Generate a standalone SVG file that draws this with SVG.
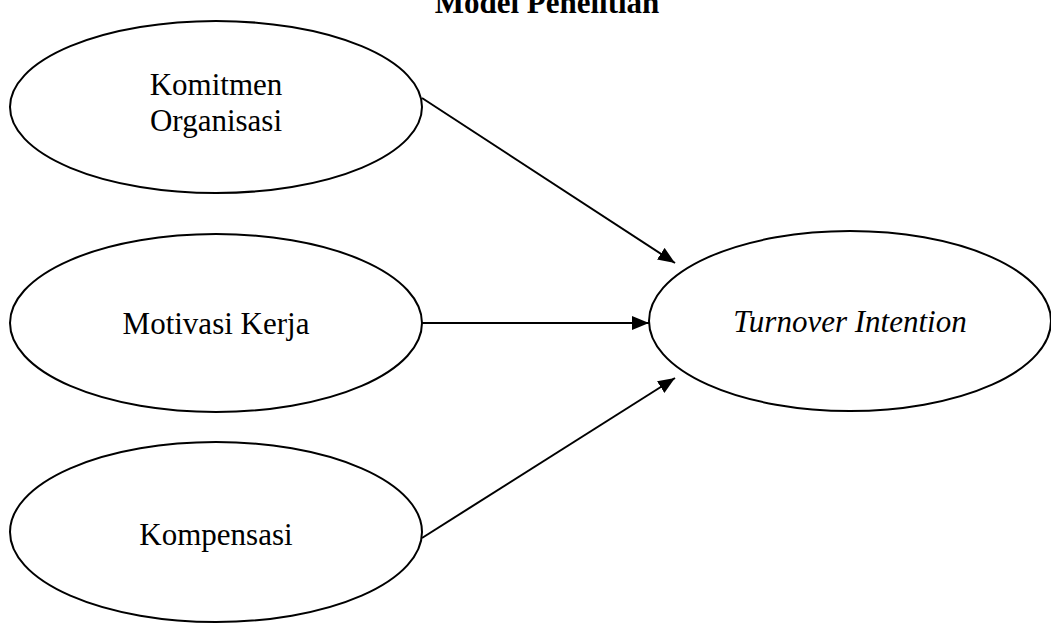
<svg xmlns="http://www.w3.org/2000/svg" width="1051" height="623" viewBox="0 0 1051 623">
<style>
.n{fill:#fff;stroke:#000;stroke-width:2}
.t{font-family:"Liberation Serif",serif;font-size:31px;fill:#000;text-anchor:middle}
.c{stroke:#000;stroke-width:2;fill:none}
</style>
<defs>
<marker id="ah2" viewBox="0 0 17 14" refX="17" refY="7" markerWidth="17" markerHeight="14" orient="auto" markerUnits="userSpaceOnUse">
<path d="M0,0 L17,7 L0,14 Z" fill="#000"/>
</marker>
</defs>
<rect width="1051" height="623" fill="#fff"/>
<text x="547" y="13" class="t" style="font-weight:bold;font-size:31px">Model Penelitian</text>
<g id="komitmen">
<ellipse class="n" cx="216" cy="107" rx="206" ry="86"/>
<text class="t" x="216" y="95">Komitmen</text>
<text class="t" x="216" y="131">Organisasi</text>
</g>
<g id="motivasi">
<ellipse class="n" cx="216" cy="323" rx="206" ry="89"/>
<text class="t" x="216" y="334">Motivasi Kerja</text>
</g>
<g id="kompensasi">
<ellipse class="n" cx="216" cy="532" rx="206" ry="90"/>
<text class="t" x="216" y="545">Kompensasi</text>
</g>
<g id="turnover">
<ellipse class="n" cx="850" cy="321" rx="201" ry="90"/>
<text class="t" x="850" y="332" style="font-style:italic">Turnover Intention</text>
</g>
<g id="connectors">
<line class="c" x1="422" y1="98" x2="675" y2="263" marker-end="url(#ah2)"/>
<line class="c" x1="422" y1="323" x2="649" y2="323" marker-end="url(#ah2)"/>
<line class="c" x1="422" y1="538" x2="675" y2="378" marker-end="url(#ah2)"/>
</g>
</svg>
